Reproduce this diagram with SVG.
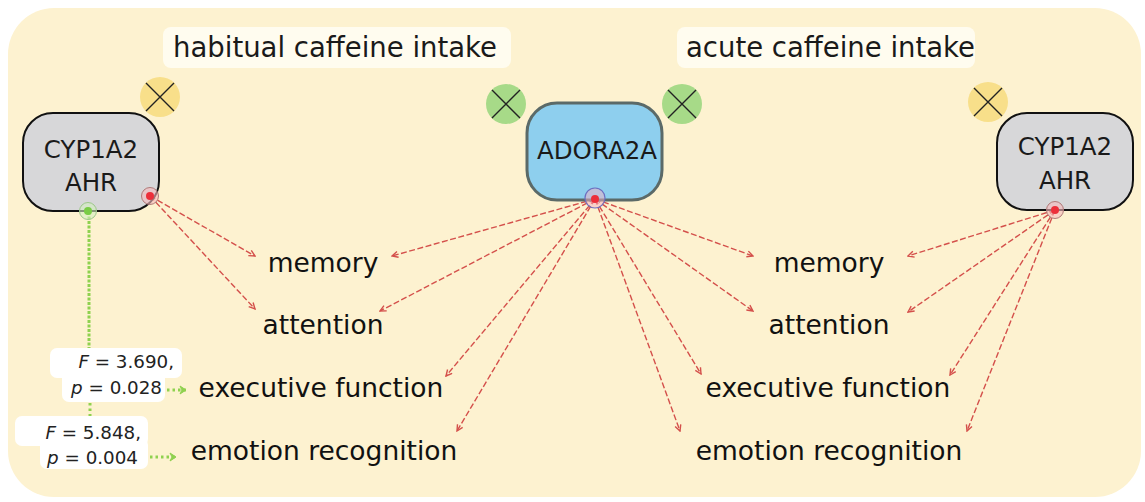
<svg xmlns="http://www.w3.org/2000/svg" width="1145" height="502" viewBox="0 0 1145 502">
  <defs>
    <style>
      .bg { fill: #fdf2d0; }
      .title-box { fill: #fffcef; }
      .title { font-family: "DejaVu Sans", Verdana, sans-serif; font-size: 27.5px; fill: #1a1a1a; }
      .label { font-family: "DejaVu Sans", Verdana, sans-serif; font-size: 26.5px; fill: #111; text-anchor: middle; }
      .gene { font-family: "DejaVu Sans", Verdana, sans-serif; font-size: 24.5px; fill: #1a1a1a; text-anchor: middle; }
      .stat { font-family: "DejaVu Sans", Verdana, sans-serif; font-size: 18.3px; fill: #222; text-anchor: end; }
      .stat-box { fill: #ffffff; }
      .cyp { fill: #d7d7d9; stroke: #111; stroke-width: 2; }
      .adora { fill: #8ecfee; stroke: #5b6a68; stroke-width: 3; }
      .x-yellow { fill: #f8df8a; }
      .x-green { fill: #a7da88; }
      .x-mark { stroke: #222; stroke-width: 1.4; fill: none; }
      .link { fill: none; stroke: #d4504b; stroke-width: 1.4; stroke-dasharray: 6 2.5; marker-end: url(#arrow-red); }
      .sig { fill: none; stroke: #8fd14f; stroke-width: 3; stroke-dasharray: 3 1.5; }
      .sig-dot { fill: none; stroke: #8fd14f; stroke-width: 3; stroke-dasharray: 2.5 3; }
      .port-red-ring { fill: #f7b9bd; fill-opacity: 0.6; stroke: #b07a78; stroke-width: 1; }
      .port-red { fill: #ec2f3a; }
      .port-green-ring { fill: #d4efc0; fill-opacity: 0.6; stroke: #9cc88a; stroke-width: 1; }
      .port-green { fill: #79cc45; }
      .port-blue-ring { fill: #f3b0bf; fill-opacity: 0.5; stroke: #6d6fbf; stroke-width: 1.2; }
    </style>
    <marker id="arrow-red" viewBox="0 0 8 8" refX="7" refY="4" markerWidth="8" markerHeight="8" markerUnits="userSpaceOnUse" orient="auto">
      <path d="M1,1 L7,4 L1,7" fill="none" stroke="#d4504b" stroke-width="1.4"/>
    </marker>
    <marker id="arrow-green" viewBox="0 0 10 10" refX="8" refY="5" markerWidth="10" markerHeight="10" markerUnits="userSpaceOnUse" orient="auto">
      <path d="M2,1 L8,5 L2,9 L4,5 Z" fill="#8fd14f" stroke="#8fd14f" stroke-width="1"/>
    </marker>
  </defs>

  <!-- panel background -->
  <rect class="bg" x="8" y="8" width="1133" height="489" rx="46" ry="46"/>

  <!-- section headings -->
  <g id="title-habitual">
    <rect class="title-box" x="163" y="27" width="348" height="41" rx="8"/>
    <text class="title" x="173" y="57">habitual caffeine intake</text>
  </g>
  <g id="title-acute">
    <rect class="title-box" x="677" y="27" width="298" height="41" rx="8"/>
    <text class="title" x="686" y="57">acute caffeine intake</text>
  </g>

  <!-- statistics (two stacked text backgrounds each) -->
  <g id="stat-executive">
    <rect class="stat-box" x="50" y="348" width="132" height="30" rx="7"/>
    <rect class="stat-box" x="62" y="370" width="103" height="32" rx="7"/>
    <text class="stat" x="174" y="368"><tspan font-style="italic">F</tspan> = 3.690,</text>
    <text class="stat" x="162" y="394"><tspan font-style="italic">p</tspan> = 0.028</text>
  </g>
  <g id="stat-emotion">
    <rect class="stat-box" x="15" y="416" width="133" height="30" rx="7"/>
    <rect class="stat-box" x="40" y="438" width="108" height="31" rx="7"/>
    <text class="stat" x="141" y="439"><tspan font-style="italic">F</tspan> = 5.848,</text>
    <text class="stat" x="138" y="464"><tspan font-style="italic">p</tspan> = 0.004</text>
  </g>

  <!-- connectors -->
  <g id="connectors">
    <!-- CYP1A2/AHR (habitual) -->
    <line class="link" x1="150" y1="196" x2="255" y2="256"/>
    <line class="link" x1="150" y1="196" x2="255" y2="309"/>
    <!-- ADORA2A to left outcomes -->
    <line class="link" x1="595" y1="199" x2="392" y2="256"/>
    <line class="link" x1="595" y1="199" x2="380" y2="311"/>
    <line class="link" x1="595" y1="199" x2="446" y2="376"/>
    <line class="link" x1="595" y1="199" x2="457" y2="431"/>
    <!-- ADORA2A to right outcomes -->
    <line class="link" x1="595" y1="199" x2="753" y2="256"/>
    <line class="link" x1="595" y1="199" x2="753" y2="311"/>
    <line class="link" x1="595" y1="199" x2="701" y2="374"/>
    <line class="link" x1="595" y1="199" x2="680" y2="431"/>
    <!-- CYP1A2/AHR (acute) -->
    <line class="link" x1="1055" y1="210" x2="908" y2="256"/>
    <line class="link" x1="1055" y1="210" x2="908" y2="312"/>
    <line class="link" x1="1055" y1="210" x2="950" y2="375"/>
    <line class="link" x1="1055" y1="210" x2="967" y2="431"/>
    <!-- significant effects -->
    <line class="sig" x1="89" y1="212" x2="89" y2="348"/>
    <line class="sig-dot" x1="90" y1="403" x2="90" y2="416"/>
    <line class="sig-dot" x1="167" y1="390" x2="186" y2="390" marker-end="url(#arrow-green)"/>
    <line class="sig-dot" x1="150" y1="457" x2="176" y2="457" marker-end="url(#arrow-green)"/>
  </g>

  <!-- gene nodes -->
  <g id="node-cyp-habitual">
    <rect class="cyp" x="23" y="113" width="136" height="98" rx="30"/>
    <text class="gene" x="91" y="158">CYP1A2</text>
    <text class="gene" x="91" y="191">AHR</text>
    <circle class="port-red-ring" cx="150" cy="196" r="8.5"/>
    <circle class="port-red" cx="150" cy="196" r="4"/>
    <circle class="port-green-ring" cx="88" cy="211" r="8.5"/>
    <circle class="port-green" cx="88" cy="211" r="4"/>
  </g>
  <g id="x-cyp-habitual">
    <circle class="x-yellow" cx="160" cy="97" r="20"/>
    <path class="x-mark" d="M146,83 L174,111 M174,83 L146,111"/>
  </g>

  <g id="node-adora2a">
    <rect class="adora" x="527" y="103" width="135" height="97" rx="30"/>
    <text class="gene" x="597" y="159">ADORA2A</text>
    <circle class="port-blue-ring" cx="595" cy="198" r="10"/>
    <circle class="port-red" cx="595" cy="199" r="4"/>
  </g>
  <g id="x-adora-habitual">
    <circle class="x-green" cx="506" cy="104" r="20"/>
    <path class="x-mark" d="M492,90 L520,118 M520,90 L492,118"/>
  </g>
  <g id="x-adora-acute">
    <circle class="x-green" cx="682" cy="104" r="20"/>
    <path class="x-mark" d="M668,90 L696,118 M696,90 L668,118"/>
  </g>

  <g id="node-cyp-acute">
    <rect class="cyp" x="997" y="113" width="136" height="97" rx="30"/>
    <text class="gene" x="1065" y="155">CYP1A2</text>
    <text class="gene" x="1065" y="189">AHR</text>
    <circle class="port-red-ring" cx="1055" cy="210" r="8.5"/>
    <circle class="port-red" cx="1055" cy="210" r="4"/>
  </g>
  <g id="x-cyp-acute">
    <circle class="x-yellow" cx="988" cy="102" r="20"/>
    <path class="x-mark" d="M974,88 L1002,116 M1002,88 L974,116"/>
  </g>

  <!-- outcome labels, habitual -->
  <g id="habitual-memory"><text class="label" x="323" y="272">memory</text></g>
  <g id="habitual-attention"><text class="label" x="323" y="334">attention</text></g>
  <g id="habitual-executive"><text class="label" x="321" y="397">executive function</text></g>
  <g id="habitual-emotion"><text class="label" x="324" y="460">emotion recognition</text></g>

  <!-- outcome labels, acute -->
  <g id="acute-memory"><text class="label" x="829" y="272">memory</text></g>
  <g id="acute-attention"><text class="label" x="829" y="334">attention</text></g>
  <g id="acute-executive"><text class="label" x="828" y="397">executive function</text></g>
  <g id="acute-emotion"><text class="label" x="829" y="460">emotion recognition</text></g>
</svg>
